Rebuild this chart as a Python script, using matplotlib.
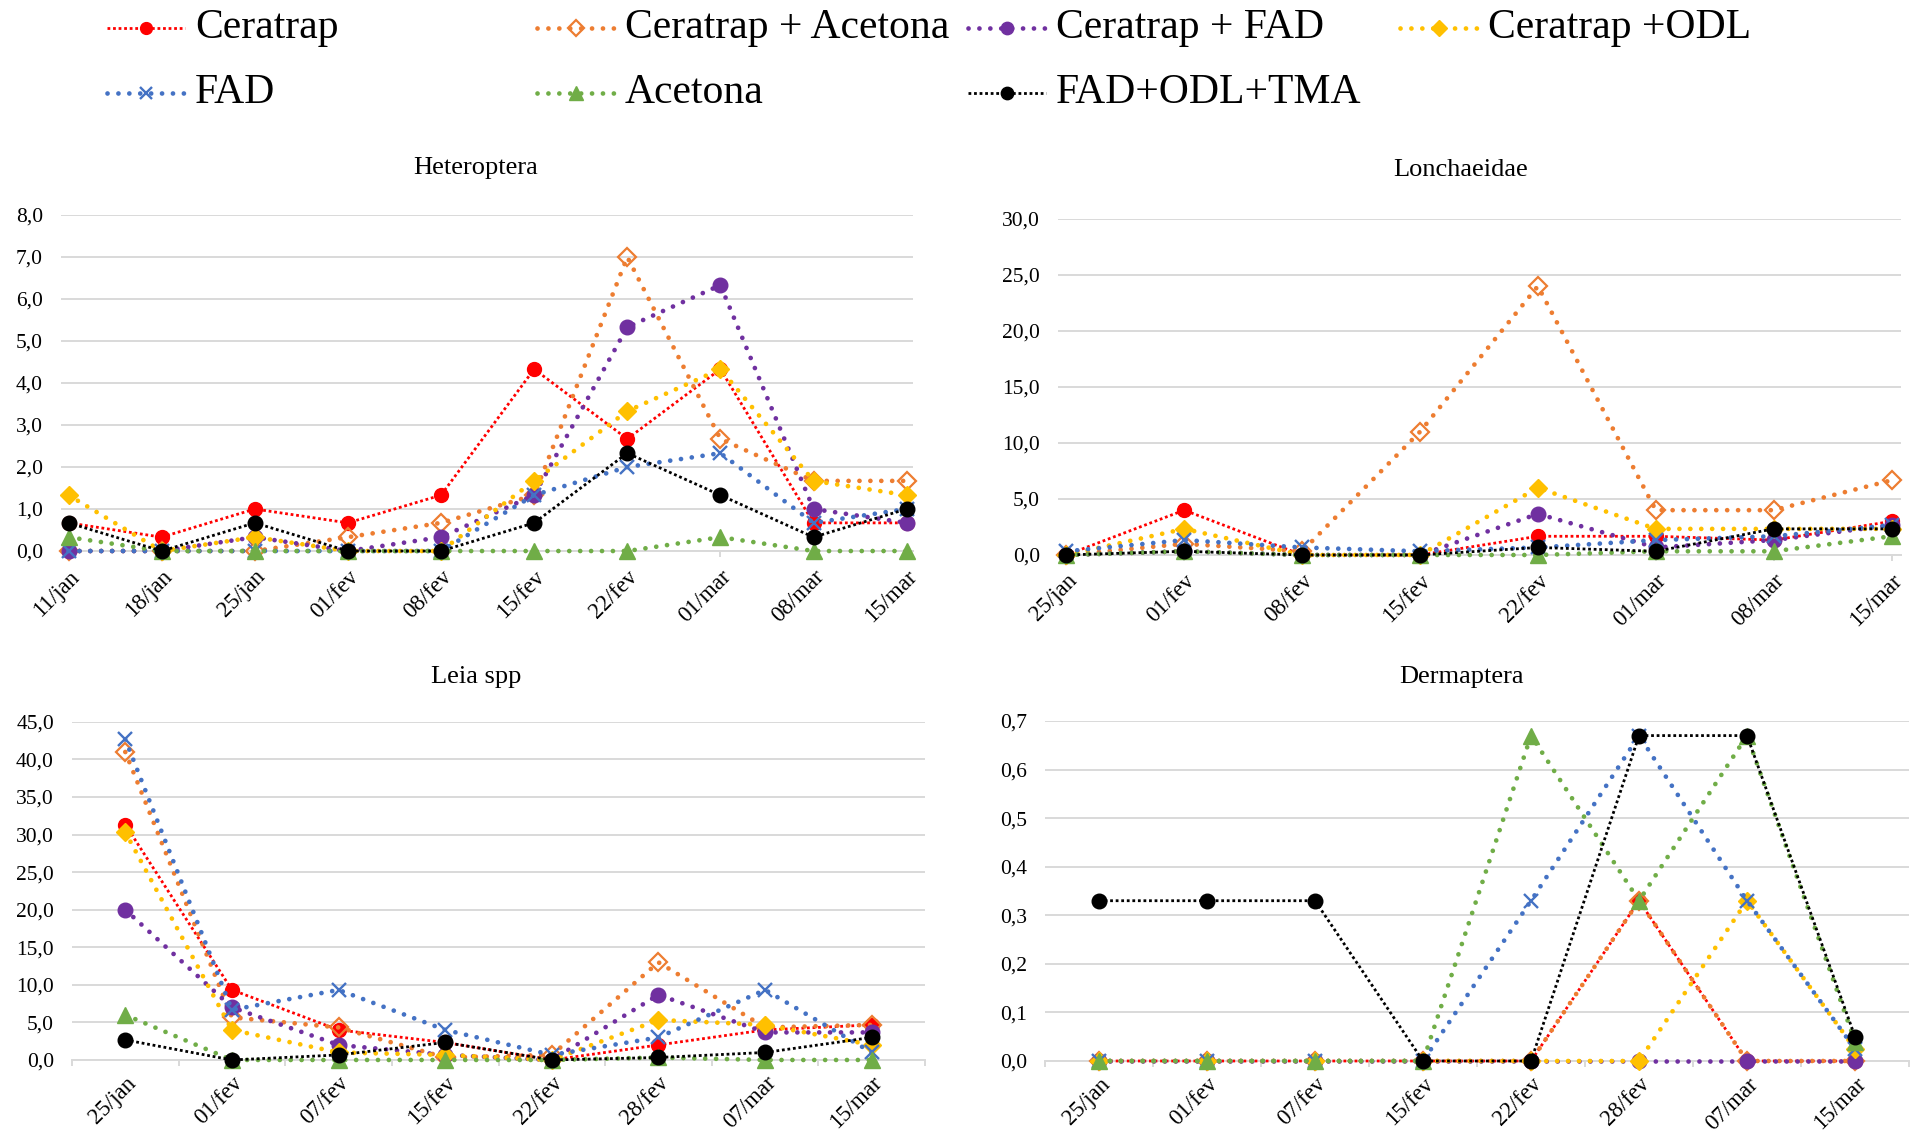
import numpy as np
import matplotlib
matplotlib.use("Agg")
import matplotlib.pyplot as plt
from matplotlib.ticker import FuncFormatter, FixedLocator
from matplotlib.transforms import ScaledTranslation

plt.rcParams['font.family'] = 'serif'
plt.rcParams['font.serif'] = ['Liberation Serif', 'Times New Roman', 'DejaVu Serif']

# Series (trap treatments)
series_names = ['Ceratrap', 'Ceratrap + Acetona', 'Ceratrap + FAD', 'Ceratrap +ODL',
                'FAD', 'Acetona', 'FAD+ODL+TMA']

# Heteroptera
dates_het = ['11/jan', '18/jan', '25/jan', '01/fev', '08/fev', '15/fev', '22/fev', '01/mar', '08/mar', '15/mar']
het_ceratrap = [0.67, 0.33, 1.0, 0.67, 1.33, 4.33, 2.67, 4.33, 0.67, 0.67]
het_cer_acetona = [0.0, 0.0, 0.0, 0.33, 0.67, 1.33, 7.0, 2.67, 1.67, 1.67]
het_cer_fad = [0.0, 0.0, 0.33, 0.0, 0.33, 1.33, 5.33, 6.33, 1.0, 0.67]
het_cer_odl = [1.33, 0.0, 0.33, 0.0, 0.0, 1.67, 3.33, 4.33, 1.67, 1.33]
het_fad = [0.0, 0.0, 0.0, 0.0, 0.0, 1.33, 2.0, 2.33, 0.67, 1.0]
het_acetona = [0.33, 0.0, 0.0, 0.0, 0.0, 0.0, 0.0, 0.33, 0.0, 0.0]
het_fad_odl_tma = [0.67, 0.0, 0.67, 0.0, 0.0, 0.67, 2.33, 1.33, 0.33, 1.0]

# Lonchaeidae
dates_lon = ['25/jan', '01/fev', '08/fev', '15/fev', '22/fev', '01/mar', '08/mar', '15/mar']
lon_ceratrap = [0.0, 4.0, 0.0, 0.0, 1.67, 1.67, 1.33, 3.0]
lon_cer_acetona = [0.0, 1.0, 0.33, 11.0, 24.0, 4.0, 4.0, 6.67]
lon_cer_fad = [0.0, 0.33, 0.0, 0.0, 3.67, 0.67, 1.33, 2.67]
lon_cer_odl = [0.0, 2.33, 0.0, 0.0, 6.0, 2.33, 2.33, 2.33]
lon_fad = [0.33, 1.33, 0.67, 0.33, 0.67, 1.33, 1.67, 2.67]
lon_acetona = [0.0, 0.33, 0.0, 0.0, 0.0, 0.33, 0.33, 1.67]
lon_fad_odl_tma = [0.0, 0.33, 0.0, 0.0, 0.67, 0.33, 2.33, 2.33]

# Leia spp and Dermaptera share the same sampling dates
dates_b = ['25/jan', '01/fev', '07/fev', '15/fev', '22/fev', '28/fev', '07/mar', '15/mar']
leia_ceratrap = [31.33, 9.33, 4.0, 2.33, 0.0, 2.0, 4.0, 4.67]
leia_cer_acetona = [41.0, 5.67, 4.33, 0.33, 0.67, 13.0, 4.33, 4.67]
leia_cer_fad = [20.0, 7.0, 2.0, 0.67, 0.0, 8.67, 3.67, 3.67]
leia_cer_odl = [30.33, 4.0, 1.0, 0.67, 0.0, 5.33, 4.67, 2.0]
leia_fad = [42.67, 6.67, 9.33, 4.0, 0.67, 3.0, 9.33, 1.0]
leia_acetona = [6.0, 0.0, 0.0, 0.0, 0.0, 0.33, 0.0, 0.0]
leia_fad_odl_tma = [2.67, 0.0, 0.67, 2.33, 0.0, 0.33, 1.0, 3.0]

derm_ceratrap = [0.0, 0.0, 0.0, 0.0, 0.0, 0.33, 0.0, 0.0]
derm_cer_acetona = [0.0, 0.0, 0.0, 0.0, 0.0, 0.33, 0.0, 0.0]
derm_cer_fad = [0.0, 0.0, 0.0, 0.0, 0.0, 0.0, 0.0, 0.0]
derm_cer_odl = [0.0, 0.0, 0.0, 0.0, 0.0, 0.0, 0.33, 0.025]
derm_fad = [0.0, 0.0, 0.0, 0.0, 0.33, 0.67, 0.33, 0.025]
derm_acetona = [0.0, 0.0, 0.0, 0.0, 0.67, 0.33, 0.67, 0.04]
derm_fad_odl_tma = [0.33, 0.33, 0.33, 0.0, 0.0, 0.67, 0.67, 0.05]

# line / marker look of each treatment
fine_dot = dict(lw=2.0, ls=(0, (1, 1)), dash_capstyle='butt')
round_dot = dict(lw=3.4, ls=(0, (0.01, 2.3)), dash_capstyle='round')
styles = [
    dict(color='#FF0000', marker='o', ms=10, mfc='#FF0000', mew=1, **fine_dot),
    dict(color='#ED7D31', marker='D', ms=9, mfc='none', mew=1.6, **round_dot),
    dict(color='#7030A0', marker='o', ms=10.5, mfc='#7030A0', mew=1, **round_dot),
    dict(color='#FFC000', marker='D', ms=9.5, mfc='#FFC000', mew=1, **round_dot),
    dict(color='#4472C4', marker='x', ms=10, mew=1.7, **round_dot),
    dict(color='#70AD47', marker='^', ms=11.5, mfc='#70AD47', mew=1, **round_dot),
    dict(color='#000000', marker='o', ms=10.5, mfc='#000000', mew=1, **fine_dot),
]

GRID = '#D9D9D9'


def comma_fmt(v, pos):
    return f'{v:.1f}'.replace('.', ',')


def draw_panel(rect, labels, data, ymax, ystep, xlim, ticks_between):
    ax = fig.add_axes(rect)
    x = np.arange(len(labels))
    for values, st in zip(data, styles):
        ax.plot(x, values, clip_on=False, **st)
    ax.set_xlim(*xlim)
    ax.set_ylim(0, ymax)
    ax.set_yticks(np.arange(0, ymax + ystep / 2, ystep))
    ax.yaxis.set_major_formatter(FuncFormatter(comma_fmt))
    ax.grid(axis='y', color=GRID, lw=1.4)
    ax.set_axisbelow(True)
    for s in ['top', 'right', 'left']:
        ax.spines[s].set_visible(False)
    # keep the axis line under the series so zero-valued dots stay visible
    ax.spines['bottom'].set_color(GRID)
    ax.spines['bottom'].set_linewidth(1.4)
    ax.spines['bottom'].set_zorder(0.5)
    ax.tick_params(axis='y', length=0, pad=13, labelsize=15.5)
    ax.set_xticks(x)
    ax.set_xticklabels(labels, rotation=45, ha='right', rotation_mode='anchor', fontsize=16.5)
    # nudge rotated date labels so their ends sit just right of each point
    shift = ScaledTranslation(6 / 100, 0, fig.dpi_scale_trans)
    for lab in ax.get_xticklabels():
        lab.set_transform(lab.get_transform() + shift)
    if ticks_between:
        ax.xaxis.set_minor_locator(FixedLocator(np.arange(len(labels) + 1) - 0.5))
        ax.tick_params(axis='x', which='major', length=0, pad=9)
        ax.tick_params(axis='x', which='minor', length=4, color=GRID, width=1.4)
    else:
        ax.tick_params(axis='x', which='major', length=4, color=GRID, width=1.4, pad=7)
    return ax


fig = plt.figure(figsize=(19.14, 11.31), dpi=100)

draw_panel([0.0319, 0.5128, 0.4452, 0.2971], dates_het,
           [het_ceratrap, het_cer_acetona, het_cer_fad, het_cer_odl, het_fad, het_acetona, het_fad_odl_tma],
           8, 1, (-0.08, 9.07), False)
draw_panel([0.5528, 0.5093, 0.4404, 0.2971], dates_lon,
           [lon_ceratrap, lon_cer_acetona, lon_cer_fad, lon_cer_odl, lon_fad, lon_acetona, lon_fad_odl_tma],
           30, 5, (-0.07, 7.08), False)
draw_panel([0.0376, 0.0628, 0.4457, 0.2989], dates_b,
           [leia_ceratrap, leia_cer_acetona, leia_cer_fad, leia_cer_odl, leia_fad, leia_acetona, leia_fad_odl_tma],
           45, 5, (-0.5, 7.5), True)
draw_panel([0.5460, 0.0619, 0.4514, 0.3006], dates_b,
           [derm_ceratrap, derm_cer_acetona, derm_cer_fad, derm_cer_odl, derm_fad, derm_acetona, derm_fad_odl_tma],
           0.7, 0.1, (-0.5, 7.5), True)

# panel titles
for title, tx, ty in [('Heteroptera', 476, 168), ('Lonchaeidae', 1461, 170),
                      ('Leia spp', 476, 677), ('Dermaptera', 1461, 677)]:
    fig.text(tx / 1914, 1 - ty / 1131, title, ha='center', va='center', fontsize=19)

# shared legend across the top, laid out on a pixel grid
lax = fig.add_axes([0, 0, 1, 1])
lax.set_xlim(0, 1914)
lax.set_ylim(1131, 0)
lax.axis('off')
col_x = [107, 537, 968, 1400]
row_y = [28, 93]
handle_len = 78
for i, (name, st) in enumerate(zip(series_names, styles)):
    hx = col_x[i % 4] if i < 4 else col_x[i - 4]
    hy = row_y[0] if i < 4 else row_y[1]
    line_st = {k: v for k, v in st.items() if k not in ('marker', 'ms', 'mfc', 'mew')}
    lax.plot([hx, hx + handle_len], [hy, hy], **line_st)
    mk = dict(st)
    mk['ms'] = st['ms'] * 0.85
    mk['ls'] = 'none'
    lax.plot([hx + handle_len / 2], [hy], **{k: v for k, v in mk.items() if k not in ('lw', 'dash_capstyle')})
    lax.text(hx + handle_len + 10, hy, name, ha='left', va='center', fontsize=30)

fig.savefig('out.png', dpi=100)
